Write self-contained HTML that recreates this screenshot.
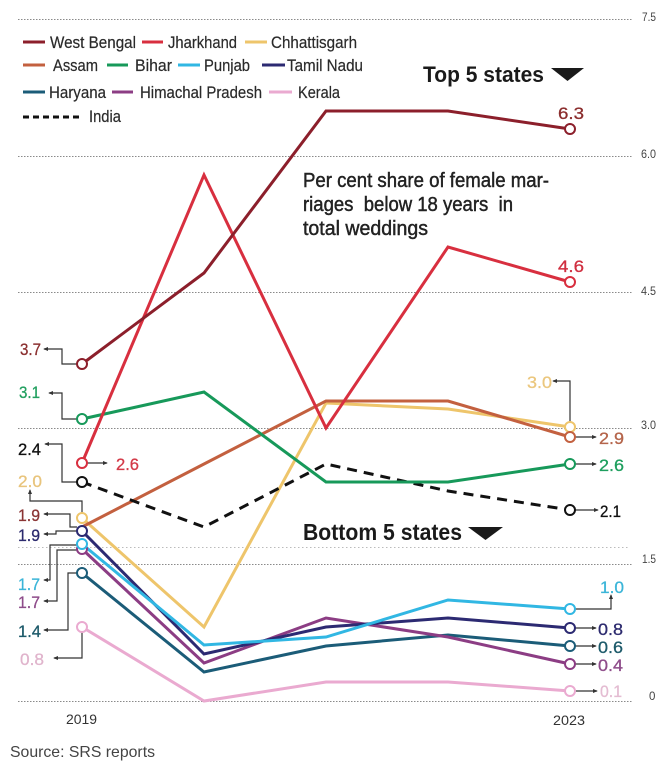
<!DOCTYPE html>
<html><head><meta charset="utf-8"><style>
html,body{margin:0;padding:0;background:#fff;}
svg{display:block;}
text{font-family:"Liberation Sans",sans-serif;}
</style></head><body>
<svg width="670" height="773" viewBox="0 0 670 773" xmlns="http://www.w3.org/2000/svg">
<defs>
<marker id="ar" viewBox="0 0 6 6" refX="5" refY="3" markerWidth="5" markerHeight="5" orient="auto" markerUnits="userSpaceOnUse">
<path d="M0,0.5 L6,3 L0,5.5 Z" fill="#333"/>
</marker>
</defs>
<rect width="670" height="773" fill="#fff"/>
<!-- grid -->
<g stroke="#8a8a8a" stroke-width="1" stroke-dasharray="1.5,1.5">
<line x1="18" y1="19.5" x2="632" y2="19.5"/>
<line x1="18" y1="156.5" x2="632" y2="156.5"/>
<line x1="18" y1="292.5" x2="632" y2="292.5"/>
<line x1="18" y1="428.5" x2="632" y2="428.5"/>
<line x1="18" y1="564.5" x2="632" y2="564.5"/>
<line x1="18" y1="701.5" x2="632" y2="701.5"/>
</g>
<line x1="18" y1="547.5" x2="628" y2="547.5" stroke="#bbb" stroke-width="1" stroke-dasharray="1.5,2.5"/>
<!-- right axis labels -->
<g font-size="11.5" fill="#444">
<text x="642" y="21" textLength="14" lengthAdjust="spacingAndGlyphs">7.5</text>
<text x="641" y="158" textLength="15" lengthAdjust="spacingAndGlyphs">6.0</text>
<text x="641" y="295" textLength="15" lengthAdjust="spacingAndGlyphs">4.5</text>
<text x="641" y="429" textLength="15" lengthAdjust="spacingAndGlyphs">3.0</text>
<text x="642" y="563" textLength="14" lengthAdjust="spacingAndGlyphs">1.5</text>
<text x="649" y="700">0</text>
</g>
<!-- legend -->
<g stroke-width="3" fill="none">
<line x1="23" y1="42" x2="45" y2="42" stroke="#8c1f2b"/>
<line x1="142" y1="42" x2="163" y2="42" stroke="#d82f3f"/>
<line x1="245" y1="42" x2="267" y2="42" stroke="#eec56b"/>
<line x1="23" y1="65" x2="45" y2="65" stroke="#c3603f"/>
<line x1="107" y1="65" x2="128" y2="65" stroke="#17995a"/>
<line x1="178" y1="65" x2="200" y2="65" stroke="#31b7e3"/>
<line x1="262" y1="65" x2="285" y2="65" stroke="#2c2a72"/>
<line x1="23" y1="92" x2="45" y2="92" stroke="#1b5c78"/>
<line x1="112" y1="92" x2="133" y2="92" stroke="#8c3d84"/>
<line x1="269" y1="92" x2="292" y2="92" stroke="#eaaad0"/>
<line x1="23" y1="117" x2="82" y2="117" stroke="#111" stroke-dasharray="6,4"/>
</g>
<g font-size="17" fill="#2a2a2a" stroke="#2a2a2a" stroke-width="0.2">
<text x="50" y="48" textLength="86" lengthAdjust="spacingAndGlyphs">West Bengal</text>
<text x="168" y="48" textLength="69" lengthAdjust="spacingAndGlyphs">Jharkhand</text>
<text x="271" y="48" textLength="86" lengthAdjust="spacingAndGlyphs">Chhattisgarh</text>
<text x="53" y="71" textLength="45" lengthAdjust="spacingAndGlyphs">Assam</text>
<text x="135" y="71" textLength="37" lengthAdjust="spacingAndGlyphs">Bihar</text>
<text x="204" y="71" textLength="46" lengthAdjust="spacingAndGlyphs">Punjab</text>
<text x="287" y="71" textLength="76" lengthAdjust="spacingAndGlyphs">Tamil Nadu</text>
<text x="49" y="98" textLength="57" lengthAdjust="spacingAndGlyphs">Haryana</text>
<text x="140" y="98" textLength="122" lengthAdjust="spacingAndGlyphs">Himachal Pradesh</text>
<text x="298" y="98" textLength="42" lengthAdjust="spacingAndGlyphs">Kerala</text>
<text x="89" y="122" textLength="32" lengthAdjust="spacingAndGlyphs">India</text>
</g>
<!-- titles -->
<text x="423" y="82" font-size="22" font-weight="bold" fill="#1a1a1a" textLength="121" lengthAdjust="spacingAndGlyphs">Top 5 states</text>
<polygon points="551,68 584,68 567.5,81" fill="#1a1a1a"/>
<text x="303" y="540" font-size="23" font-weight="bold" fill="#1a1a1a" textLength="159" lengthAdjust="spacingAndGlyphs">Bottom 5 states</text>
<polygon points="468,527 503,527 485.5,540" fill="#1a1a1a"/>
<g font-size="20" fill="#222" stroke="#222" stroke-width="0.45">
<text x="303" y="187" textLength="246" lengthAdjust="spacingAndGlyphs">Per cent share of female mar-</text>
<text x="303" y="211" textLength="210" lengthAdjust="spacingAndGlyphs" xml:space="preserve">riages  below 18 years  in</text>
<text x="303" y="235" textLength="125" lengthAdjust="spacingAndGlyphs">total weddings</text>
</g>
<!-- connectors -->
<g fill="none" stroke="#333" stroke-width="1.2">
<path d="M77,364 H62 V349 H44" marker-end="url(#ar)"/>
<path d="M77,419 H62 V393 H49" marker-end="url(#ar)"/>
<path d="M77,482 H62 V444 H45" marker-end="url(#ar)"/>
<path d="M87,463 H107" marker-end="url(#ar)"/>
<path d="M82,513 V501 H30 V490" marker-end="url(#ar)"/>
<path d="M77,527 H70 V514 H44" marker-end="url(#ar)"/>
<path d="M77,531 H56 V534 H44" marker-end="url(#ar)"/>
<path d="M77,545 H50 V580 H44" marker-end="url(#ar)"/>
<path d="M77,550 H57 V601 H44" marker-end="url(#ar)"/>
<path d="M77,573 H68 V630 H44" marker-end="url(#ar)"/>
<path d="M82,632 V658 H54" marker-end="url(#ar)"/>
<path d="M570,422 V381 H553" marker-end="url(#ar)"/>
<path d="M575,437 H596" marker-end="url(#ar)"/>
<path d="M575,464 H596" marker-end="url(#ar)"/>
<path d="M575,510 H598" marker-end="url(#ar)"/>
<path d="M575,609 H611 V595" marker-end="url(#ar)"/>
<path d="M575,628 H596" marker-end="url(#ar)"/>
<path d="M575,646 H596" marker-end="url(#ar)"/>
<path d="M575,664 H596" marker-end="url(#ar)"/>
<path d="M575,691 H597" marker-end="url(#ar)"/>
</g>
<!-- series -->
<g fill="none" stroke-width="3" stroke-linejoin="miter">
<polyline points="82,627 204,701 326,682 448,682 570,691" stroke="#eaaad0"/>
<polyline points="82,573 204,672 326,646 448,635 570,646" stroke="#1b5c78"/>
<polyline points="82,549 204,663 326,618 448,637 570,664" stroke="#8c3d84"/>
<polyline points="82,531 204,654 326,627 448,618 570,628" stroke="#2c2a72"/>
<polyline points="82,544 204,645 326,637 448,600 570,609" stroke="#31b7e3"/>
<polyline points="82,518 204,627 326,403 448,409 570,427" stroke="#eec56b"/>
<polyline points="82,527 204,464 326,401 448,401 570,437" stroke="#c3603f"/>
<polyline points="82,482 204,527 326,464 448,491 570,510" stroke="#111" stroke-dasharray="10,7"/>
<polyline points="82,419 204,392 326,482 448,482 570,464" stroke="#17995a"/>
<polyline points="82,463 204,175 326,428 448,247 570,282" stroke="#d82f3f"/>
<polyline points="82,364 204,273 326,111 448,111 570,129" stroke="#8c1f2b"/>
</g>
<!-- markers -->
<g fill="#fff" stroke-width="2">
<circle cx="82" cy="627" r="5" stroke="#eaaad0"/>
<circle cx="570" cy="691" r="5" stroke="#eaaad0"/>
<circle cx="82" cy="573" r="5" stroke="#1b5c78"/>
<circle cx="570" cy="646" r="5" stroke="#1b5c78"/>
<circle cx="82" cy="549" r="5" stroke="#8c3d84"/>
<circle cx="570" cy="664" r="5" stroke="#8c3d84"/>
<circle cx="82" cy="544" r="5" stroke="#31b7e3"/>
<circle cx="570" cy="609" r="5" stroke="#31b7e3"/>
<circle cx="82" cy="531" r="5" stroke="#2c2a72"/>
<circle cx="570" cy="628" r="5" stroke="#2c2a72"/>
<circle cx="82" cy="518" r="5" stroke="#eec56b"/>
<circle cx="570" cy="427" r="5" stroke="#eec56b"/>
<circle cx="570" cy="437" r="5" stroke="#c3603f"/>
<circle cx="82" cy="482" r="5" stroke="#111"/>
<circle cx="570" cy="510" r="5" stroke="#111"/>
<circle cx="82" cy="419" r="5" stroke="#17995a"/>
<circle cx="570" cy="464" r="5" stroke="#17995a"/>
<circle cx="82" cy="463" r="5" stroke="#d82f3f"/>
<circle cx="570" cy="282" r="5" stroke="#d82f3f"/>
<circle cx="82" cy="364" r="5" stroke="#8c1f2b"/>
<circle cx="570" cy="129" r="5" stroke="#8c1f2b"/>
</g>
<!-- value labels -->
<g font-size="17" stroke-width="0.3">
<text x="558" y="119" fill="#8b2d2d" stroke="#8b2d2d" textLength="26" lengthAdjust="spacingAndGlyphs">6.3</text>
<text x="558" y="272" fill="#d02f40" stroke="#d02f40" textLength="26" lengthAdjust="spacingAndGlyphs">4.6</text>
<text x="20" y="355" fill="#8b3030" stroke="#8b3030" textLength="21" lengthAdjust="spacingAndGlyphs">3.7</text>
<text x="19" y="398" fill="#23a060" stroke="#23a060" textLength="21" lengthAdjust="spacingAndGlyphs">3.1</text>
<text x="18" y="455" fill="#111" stroke="#111" textLength="23" lengthAdjust="spacingAndGlyphs">2.4</text>
<text x="116" y="470" fill="#d33a48" stroke="#d33a48" textLength="23" lengthAdjust="spacingAndGlyphs">2.6</text>
<text x="18" y="487" fill="#e8c47c" stroke="#e8c47c" textLength="24" lengthAdjust="spacingAndGlyphs">2.0</text>
<text x="18" y="521" fill="#8b3535" stroke="#8b3535" textLength="22" lengthAdjust="spacingAndGlyphs">1.9</text>
<text x="18" y="541" fill="#2c2a6e" stroke="#2c2a6e" textLength="22" lengthAdjust="spacingAndGlyphs">1.9</text>
<text x="18" y="590" fill="#3bb5d8" stroke="#3bb5d8" textLength="22" lengthAdjust="spacingAndGlyphs">1.7</text>
<text x="18" y="608" fill="#8e4c8a" stroke="#8e4c8a" textLength="22" lengthAdjust="spacingAndGlyphs">1.7</text>
<text x="18" y="637" fill="#1d5a6a" stroke="#1d5a6a" textLength="23" lengthAdjust="spacingAndGlyphs">1.4</text>
<text x="20" y="665" fill="#e0b4cc" stroke="#e0b4cc" textLength="24" lengthAdjust="spacingAndGlyphs">0.8</text>
<text x="527" y="388" fill="#ebc77e" stroke="#ebc77e" textLength="25" lengthAdjust="spacingAndGlyphs">3.0</text>
<text x="599" y="444" fill="#b5654b" stroke="#b5654b" textLength="25" lengthAdjust="spacingAndGlyphs">2.9</text>
<text x="599" y="471" fill="#1f9f5e" stroke="#1f9f5e" textLength="25" lengthAdjust="spacingAndGlyphs">2.6</text>
<text x="600" y="517" fill="#111" stroke="#111" textLength="21" lengthAdjust="spacingAndGlyphs">2.1</text>
<text x="600" y="593" fill="#3bb5d8" stroke="#3bb5d8" textLength="24" lengthAdjust="spacingAndGlyphs">1.0</text>
<text x="598" y="635" fill="#2c2a6e" stroke="#2c2a6e" textLength="25" lengthAdjust="spacingAndGlyphs">0.8</text>
<text x="598" y="653" fill="#1d5a6a" stroke="#1d5a6a" textLength="25" lengthAdjust="spacingAndGlyphs">0.6</text>
<text x="598" y="671" fill="#8e4c8a" stroke="#8e4c8a" textLength="25" lengthAdjust="spacingAndGlyphs">0.4</text>
<text x="600" y="697" fill="#e4bcd2" stroke="#e4bcd2" textLength="22" lengthAdjust="spacingAndGlyphs">0.1</text>
</g>
<!-- x labels -->
<g font-size="14" fill="#333">
<text x="66" y="724" textLength="31" lengthAdjust="spacingAndGlyphs">2019</text>
<text x="553" y="725" textLength="32" lengthAdjust="spacingAndGlyphs">2023</text>
</g>
<text x="10" y="757" font-size="16" fill="#444" textLength="145" lengthAdjust="spacingAndGlyphs">Source: SRS reports</text>
</svg>
</body></html>
